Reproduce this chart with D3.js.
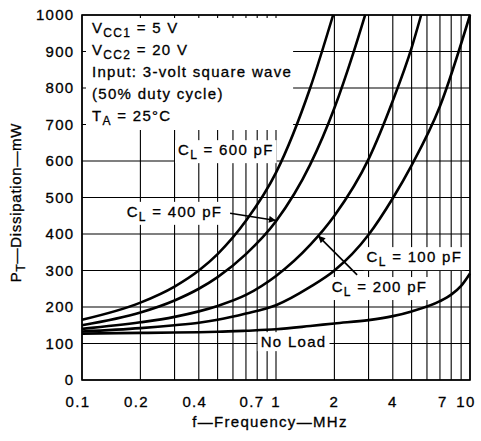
<!DOCTYPE html>
<html>
<head>
<meta charset="utf-8">
<script src="https://cdn.jsdelivr.net/npm/d3@7"></script>
<style>
  body { margin: 0; background: #fff; }
  text { font-family: "Liberation Sans", Arial, sans-serif; font-size: 15px; letter-spacing: 1.3px; fill: #000; stroke: #000; stroke-width: 0.3px; white-space: pre; }
</style>
</head>
<body>
<div id="chart"></div>
<script>
// Readings: frequency in MHz, dissipation in mW
const noLoadF = [0.1, 0.2, 0.3, 0.4, 0.5, 0.7, 1, 1.5, 2, 3, 4, 5, 7, 8, 9, 10];
const noLoadP = [127, 129, 130, 131, 132, 135, 139, 148, 155, 164, 175, 188, 216, 234, 258, 292];

const cl100F = [0.1, 0.2, 0.3, 0.4, 0.5, 0.7, 1, 1.5, 2, 3, 4, 5, 7, 10];
const cl100P = [133, 142, 150, 157, 165, 182, 205, 255, 300, 398, 498, 588, 750, 1000];

const cl200F = [0.1, 0.2, 0.3, 0.4, 0.5, 0.7, 1, 1.5, 2, 3, 4, 5, 5.6];
const cl200P = [140, 158, 173, 188, 203, 233, 285, 370, 450, 605, 765, 910, 1000];

const cl400F = [0.1, 0.2, 0.3, 0.4, 0.5, 0.7, 1, 1.5, 2, 2.5, 2.88];
const cl400P = [150, 185, 218, 250, 282, 345, 435, 590, 745, 895, 1000];

const cl600F = [0.1, 0.2, 0.3, 0.4, 0.5, 0.7, 1, 1.5, 1.97];
const cl600P = [165, 212, 256, 300, 345, 436, 568, 800, 1000];

const xTickLabels = [0.1, 0.2, 0.4, 0.7, 1, 2, 4, 7, 10];
const yTicks = [0, 100, 200, 300, 400, 500, 600, 700, 800, 900, 1000];

const series = [
  { f: noLoadF, p: noLoadP },
  { f: cl100F, p: cl100P },
  { f: cl200F, p: cl200P },
  { f: cl400F, p: cl400P },
  { f: cl600F, p: cl600P },
];

// text with a lowered subscript: main, sub, rest
function subText(g, px, py, main, sub, rest, anchor) {
  const t = g.append('text').attr('x', px).attr('y', py).attr('text-anchor', anchor || 'start');
  t.append('tspan').text(main);
  if (sub) t.append('tspan').attr('font-size', 12).attr('dy', 4).text(sub);
  if (rest) t.append('tspan').attr('dy', sub ? -4 : 0).text(rest);
  return t;
}

// white patch behind a label so the grid is cut out
function whiteBox(layer, node, padX, padY) {
  const b = node.getBBox();
  layer.append('rect')
    .attr('x', b.x - padX).attr('y', b.y - padY)
    .attr('width', b.width + 2 * padX).attr('height', b.height + 2 * padY)
    .attr('fill', '#fff');
}

function renderChart() {
  const W = 481, H = 441;
  const margin = { top: 15, right: 11, bottom: 61, left: 82 };

  const svg = d3.select('#chart').append('svg').attr('width', W).attr('height', H);
  svg.append('rect').attr('width', W).attr('height', H).attr('fill', '#fff');

  const x = d3.scaleLog().domain([0.1, 10]).range([margin.left, W - margin.right]);
  const y = d3.scaleLinear().domain([0, 1000]).range([H - margin.bottom, margin.top]);

  svg.append('defs').append('marker')
    .attr('id', 'head').attr('viewBox', '0 0 10 10')
    .attr('refX', 10).attr('refY', 5)
    .attr('markerUnits', 'userSpaceOnUse')
    .attr('markerWidth', 11).attr('markerHeight', 7)
    .attr('orient', 'auto')
    .append('path').attr('d', 'M0,0L10,5L0,10Z').attr('fill', '#000');

  const gridG = svg.append('g');
  const boxG = svg.append('g');
  const frameG = svg.append('g');
  const curveG = svg.append('g');
  const arrowG = svg.append('g');
  const textG = svg.append('g');

  // grid
  gridG.attr('stroke', '#000').attr('stroke-width', 1.1);
  gridG.selectAll('.gx').data(x.ticks()).enter().append('line')
    .attr('x1', d => x(d)).attr('x2', d => x(d))
    .attr('y1', y(0)).attr('y2', y(1000));
  gridG.selectAll('.gy').data(yTicks).enter().append('line')
    .attr('x1', x(0.1)).attr('x2', x(10))
    .attr('y1', d => y(d)).attr('y2', d => y(d));

  // frame
  frameG.append('rect')
    .attr('x', x(0.1)).attr('y', y(1000))
    .attr('width', x(10) - x(0.1)).attr('height', y(0) - y(1000))
    .attr('fill', 'none').attr('stroke', '#000').attr('stroke-width', 1.6);

  // curves
  const line = d3.line()
    .x(d => x(d[0])).y(d => y(d[1]))
    .curve(d3.curveMonotoneX);
  curveG.selectAll('path').data(series).enter().append('path')
    .attr('d', s => line(s.f.map((f, i) => [f, s.p[i]])))
    .attr('fill', 'none').attr('stroke', '#000').attr('stroke-width', 2.6);

  // axis tick labels
  textG.selectAll('.yl').data(yTicks).enter().append('text')
    .attr('x', margin.left - 7.5).attr('y', d => y(d)).attr('dy', '0.36em')
    .attr('text-anchor', 'end').text(d => d);
  const xShift = d => d === 0.7 ? 6 : d === 7 ? 3 : (d < 1 || d === 10) ? -4 : 0;
  textG.selectAll('.xl').data(xTickLabels).enter().append('text')
    .attr('x', d => x(d) + xShift(d)).attr('y', y(0) + 27)
    .attr('text-anchor', 'middle').text(d => d);

  // axis titles
  textG.append('text')
    .attr('x', (x(0.1) + x(10)) / 2 - 6).attr('y', y(0) + 47)
    .attr('text-anchor', 'middle').text('f\u2014Frequency\u2014MHz');
  const yt = textG.append('text').attr('text-anchor', 'middle')
    .style('letter-spacing', '0.7px')
    .attr('transform', `translate(21,${(y(0) + y(1000)) / 2 + 5}) rotate(-90)`);
  yt.append('tspan').text('P');
  yt.append('tspan').attr('font-size', 12).attr('dy', 4).text('T');
  yt.append('tspan').attr('dy', -4).text('\u2014Dissipation\u2014mW');

  // conditions block
  const head = textG.append('g');
  const hx = margin.left + 10;
  subText(head, hx, margin.top + 18, 'V', 'CC1', ' = 5 V');
  subText(head, hx, margin.top + 40, 'V', 'CC2', ' = 20 V');
  subText(head, hx, margin.top + 62, 'Input: 3-volt square wave');
  subText(head, hx, margin.top + 84, '(50% duty cycle)');
  subText(head, hx, margin.top + 106, 'T', 'A', ' = 25\u00b0C');
  const hb = head.node().getBBox();
  boxG.append('rect')
    .attr('x', x(0.1) + 4).attr('y', y(1000) + 3)
    .attr('width', hb.x + hb.width + 1 - x(0.1) - 4)
    .attr('height', hb.y + hb.height + 2 - y(1000) - 3)
    .attr('fill', '#fff');

  // curve labels
  const l600 = subText(textG, x(0.3125), y(616), 'C', 'L', ' = 600 pF');
  const l400 = subText(textG, x(0.17), y(447), 'C', 'L', ' = 400 pF');
  const l100 = subText(textG, x(2.93), y(323), 'C', 'L', ' = 100 pF');
  const l200 = subText(textG, x(1.937), y(241), 'C', 'L', ' = 200 pF');
  const lNo = subText(textG, x(0.834), y(90), 'No Load');
  [l600, l400, l100, l200, lNo].forEach(t => whiteBox(boxG, t.node(), 3, 1));

  // leader arrows
  const arrows = [
    { from: [0.58, 457], to: [1.0, 437] },
    { from: [2.62, 288], to: [1.65, 395] },
  ];
  arrowG.selectAll('line').data(arrows).enter().append('line')
    .attr('x1', d => x(d.from[0])).attr('y1', d => y(d.from[1]))
    .attr('x2', d => x(d.to[0])).attr('y2', d => y(d.to[1]))
    .attr('stroke', '#000').attr('stroke-width', 1.6)
    .attr('marker-end', 'url(#head)');
}

renderChart();
</script>
</body>
</html>
